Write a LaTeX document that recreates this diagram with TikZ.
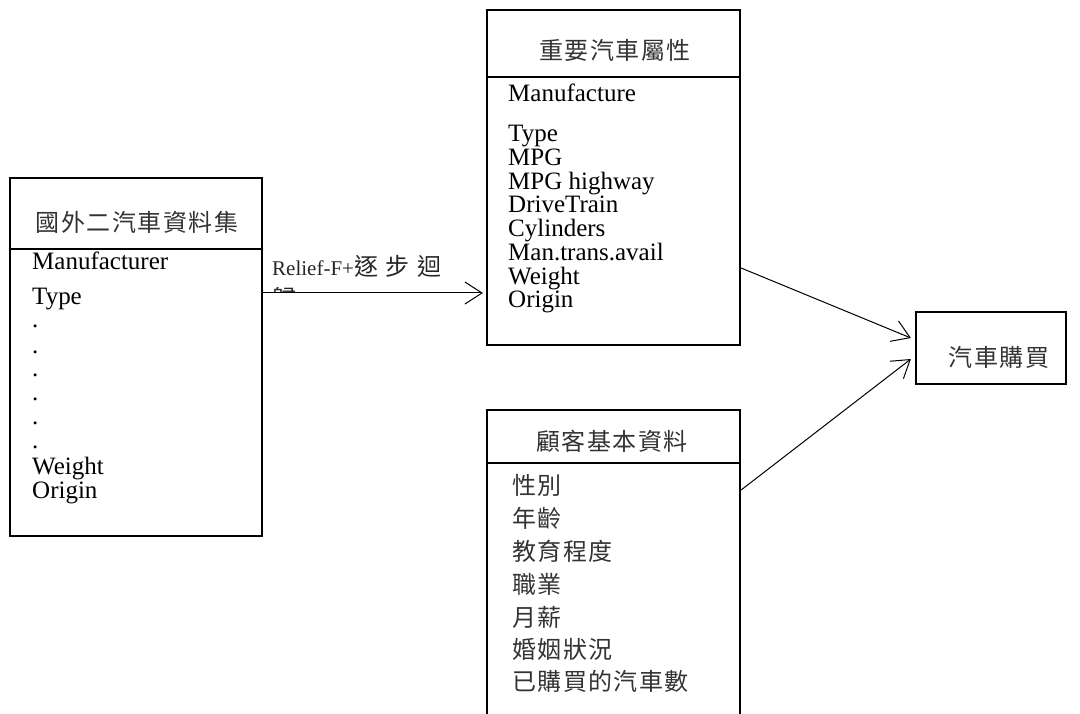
\documentclass[tikz,border=0pt]{standalone}
\usepackage{fontspec}
\setmainfont{Liberation Serif}
\newfontfamily\cjk{Noto Sans CJK TC}[LetterSpace=6]
\newfontfamily\cjkwide{Noto Sans CJK TC}[LetterSpace=33]
\usetikzlibrary{arrows.meta}

\begin{document}
\begin{tikzpicture}[x=1pt, y=-1pt,
    box/.style={draw, line width=2.2pt, inner sep=0pt},
    title/.style={inner sep=0pt, text=black!80, font=\cjk\fontsize{24}{24}\selectfont},
    item/.style={anchor=base west, inner sep=0pt, font=\fontsize{25}{24}\selectfont},
    zhitem/.style={anchor=base west, inner sep=0pt, text=black!80, font=\cjk\fontsize{24}{24}\selectfont},
    flow/.style={-{Straight Barb[length=17pt, width=22pt]}, line width=1pt}]
  \clip (0,0) rectangle (1080,714);

  \node[box, minimum width=252pt, minimum height=358pt] (dataset) at (136,357) {};
  \node[title] (t-dataset) at (137,222) {國外二汽車資料集};
  \draw[line width=1.2pt] (dataset.west |- 0,249) -- (dataset.east |- 0,249);

  \node[item] (m1) at (32,270) {Manufacturer};
  \node[item] (m2) at (32,305) {Type};
  \node[item] (d1) at (32,328) {.};
  \node[item] (d2) at (32,353) {.};
  \node[item] (d3) at (32,377) {.};
  \node[item] (d4) at (32,400) {.};
  \node[item] (d5) at (32,424) {.};
  \node[item] (d6) at (32,448) {.};
  \node[item] (m3) at (32,474) {Weight};
  \node[item] (m4) at (32,498) {Origin};

  \node[box, minimum width=253pt, minimum height=335pt] (attrs) at (613.5,177.5) {};
  \node[title] (t-attrs) at (615,50) {重要汽車屬性};
  \draw[line width=1.2pt] (attrs.west |- 0,77) -- (attrs.east |- 0,77);

  \node[item] (a1) at (508,102) {Manufacture};
  \node[item] (a2) at (508,142) {Type};
  \node[item] (a3) at (508,166) {MPG};
  \node[item] (a4) at (508,190) {MPG highway};
  \node[item] (a5) at (508,213) {DriveTrain};
  \node[item] (a6) at (508,237) {Cylinders};
  \node[item] (a7) at (508,261) {Man.trans.avail};
  \node[item] (a8) at (508,285) {Weight};
  \node[item] (a9) at (508,308) {Origin};

  \node[box, minimum width=253pt, minimum height=400pt] (customer) at (613.5,610) {};
  \node[title] (t-customer) at (612,441) {顧客基本資料};
  \draw[line width=1.2pt] (customer.west |- 0,463) -- (customer.east |- 0,463);

  \node[zhitem] (c1) at (512,494) {性別};
  \node[zhitem] (c2) at (512,527) {年齡};
  \node[zhitem] (c3) at (512,560) {教育程度};
  \node[zhitem] (c4) at (512,593) {職業};
  \node[zhitem] (c5) at (512,626) {月薪};
  \node[zhitem] (c6) at (512,658) {婚姻狀況};
  \node[zhitem] (c7) at (512,690) {已購買的汽車數};

  \node[box, minimum width=150pt, minimum height=72pt] (buy) at (991,348) {};
  \node[title] (t-buy) at (999,357) {汽車購買};

  % method label, second line cut off by the arrow
  \begin{scope}
    \clip (265,240) rectangle (480,292);
    \node[anchor=north west, inner sep=0pt, align=left, text=black!85,
      font=\fontsize{21}{32}\selectfont] (method) at (272,255)
      {Relief-F+{\cjkwide\fontsize{24}{32}\selectfont 逐步迴}\\{\cjkwide\fontsize{24}{32}\selectfont 歸}};
  \end{scope}

  \draw[flow] (dataset.east |- 0,293) -- ([xshift=-3pt]attrs.west |- 0,293);
  \draw[flow] (attrs.east |- 0,268) -- ([xshift=-4pt]buy.west |- 0,338);
  \draw[flow] (customer.east |- 0,490) -- ([xshift=-4pt]buy.west |- 0,359);
\end{tikzpicture}
\end{document}
